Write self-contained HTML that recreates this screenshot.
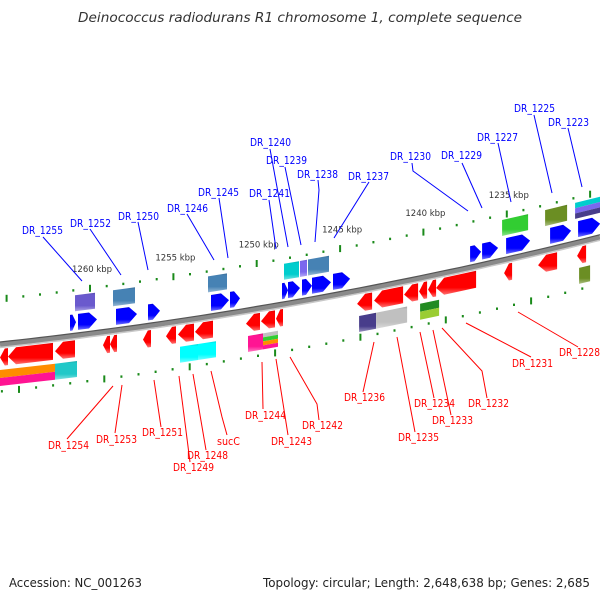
<!DOCTYPE html>
<html><head><meta charset="utf-8"><style>
body{margin:0;background:#fff}
svg{display:block;font-family:"DejaVu Sans","Liberation Sans",sans-serif}
</style></head><body>
<svg id="map" width="600" height="600" viewBox="0 0 600 600" xmlns="http://www.w3.org/2000/svg">
<rect width="600" height="600" fill="#fff"/>
<text x="300" y="22" text-anchor="middle" font-size="13" font-style="italic" fill="#333" textLength="444" lengthAdjust="spacingAndGlyphs">Deinococcus radiodurans R1 chromosome 1, complete sequence</text>
<defs id="defs"></defs>
<g id="axes"></g><g id="genes"></g><g id="labels"></g>
<text x="9" y="587" font-size="12" fill="#222" textLength="133" lengthAdjust="spacingAndGlyphs">Accession: NC_001263</text>
<text x="263" y="587" font-size="12" fill="#222" textLength="327" lengthAdjust="spacingAndGlyphs">Topology: circular; Length: 2,648,638 bp; Genes: 2,685</text>
</svg>
<script>
// ---- data (kbp) ----
const tickKbp = [1260,1255,1250,1245,1240,1235];
const geneStart = [1261.2,1260.72,1258.44,1256.52,1252.74,1251.6,1248.48,1248.12,1247.28,1246.68,1245.42,1237.2,1236.48,1235.04,1232.4,1230.72,
 1260.9,1258.62,1252.92,1248.36,1247.4,1246.92,1235.28,1232.7,1230.9,
 1265.4,1264.92,1262.1,1259.22,1258.8,1256.82,1255.44,1254.72,1253.7,1250.64,1249.74,1248.84,1243.98,1242.96,1241.16,1240.26,1239.72,1239.24,1235.16,1233.12,1230.78,
 1265.4,1262.1,1254.6,1253.52,1250.52,1249.62,1243.86,1242.84,1240.2,1230.66];
const geneEnd = [1260.84,1259.58,1257.18,1255.8,1251.66,1251.0,1248.12,1247.4,1246.68,1245.54,1244.4,1236.54,1235.52,1233.6,1231.14,1229.4,
 1259.7,1257.3,1251.78,1247.46,1246.98,1245.66,1233.72,1231.38,1229.4,
 1264.92,1262.22,1260.9,1258.8,1258.38,1256.34,1254.84,1253.76,1252.62,1249.8,1248.9,1248.42,1243.08,1241.22,1240.32,1239.78,1239.24,1236.84,1234.68,1231.98,1230.24,
 1262.1,1260.78,1253.52,1252.44,1249.62,1248.72,1242.84,1240.98,1239.06,1230.0];
const geneStrand = [1,1,1,1,1,1,1,1,1,1,1,1,1,1,1,1, 1,1,1,1,1,1,1,1,1,
 -1,-1,-1,-1,-1,-1,-1,-1,-1,-1,-1,-1,-1,-1,-1,-1,-1,-1,-1,-1,-1, -1,-1,-1,-1,-1,-1,-1,-1,-1,-1];
const geneTier = [0,0,0,0,0,0,0,0,0,0,0,0,0,0,0,0, 1,1,1,1,1,1,1,1,1,
 0,0,0,0,0,0,0,0,0,0,0,0,0,0,0,0,0,0,0,0,0, 1,1,1,1,1,1,1,1,1,1];
const geneColor = ["#0000ff","#0000ff","#0000ff","#0000ff","#0000ff","#0000ff","#0000ff","#0000ff","#0000ff","#0000ff","#0000ff","#0000ff","#0000ff","#0000ff","#0000ff","#0000ff",
 "#6a5acd","#4682b4","#4682b4","#00cdcd","#7b68ee","#4682b4","#32cd32","#6b8e23","#00cdcd|#7b68ee|#483d8b",
 "#ff0000","#ff0000","#ff0000","#ff0000","#ff0000","#ff0000","#ff0000","#ff0000","#ff0000","#ff0000","#ff0000","#ff0000","#ff0000","#ff0000","#ff0000","#ff0000","#ff0000","#ff0000","#ff0000","#ff0000","#ff0000",
 "#ff8c00|#ff1493","#20c8c8","#00ffff","#00ffff","#ff1493","#c0c0c0|#32cd32|#ff8c00|#ff1493","#483d8b","#c0c0c0","#228b22|#9acd32","#6b8e23"];
const labelName = ["DR_1255","DR_1252","DR_1250","DR_1246","DR_1245","DR_1241","DR_1240","DR_1239","DR_1238","DR_1237","DR_1230","DR_1229","DR_1227","DR_1225","DR_1223",
 "DR_1254","DR_1253","DR_1251","DR_1248","DR_1249","sucC","DR_1244","DR_1243","DR_1242","DR_1236","DR_1235","DR_1234","DR_1233","DR_1232","DR_1231","DR_1228"];
const labelX = [22,70,118,167,198,249,250,266,297,348,390,441,477,514,548, 48,96,142,187,173,217,245,271,302,344,398,414,432,468,512,559];
const labelY = [234,227,220,212,196,197,146,164,178,180,160,159,141,112,126, 449,443,436,459,471,445,419,445,429,401,441,407,424,407,367,356];
const leaders = [
 "43,237 82,281","90,229 121,275","138,222 148,270","187,214 214,260","219,198 228,258","269,200 276,249","270,149 288,247","285,167 301,245","318,180 319,190 315,242","369,182 334,238","412,163 413,171 468,211","462,163 482,208","498,143 511,202","534,115 552,193","568,128 582,187",
 "67,439 113,386","115,433 122,385","161,427 154,380","206,450 193,374","190,462 179,376","227,435 222,417 211,371","263,409 262,362","288,435 276,359","319,420 317,404 290,357","363,392 374,342","415,432 397,337","434,398 420,332","451,415 433,330","487,398 482,371 442,328","531,357 466,323","578,347 518,312"];

const NS="http://www.w3.org/2000/svg";
function xU(k){return 90+(1260-k)*16.67;}
function xL(k){return 19+(1260-k)*17.07;}
function d(x){return -0.108*x-0.000118*x*x;}
function mk(tag,attrs,parent){const e=document.createElementNS(NS,tag);for(const a in attrs)e.setAttribute(a,attrs[a]);parent.appendChild(e);return e;}
const defs=document.getElementById('defs'),gA=document.getElementById('axes'),gG=document.getElementById('genes'),gL=document.getElementById('labels');
function shade(hex,f){const n=parseInt(hex.slice(1),16);let r=n>>16,g=(n>>8)&255,b=n&255;
 if(f<0){r*=1+f;g*=1+f;b*=1+f;}else{r+=(255-r)*f;g+=(255-g)*f;b+=(255-b)*f;}
 return "rgb("+Math.round(r)+","+Math.round(g)+","+Math.round(b)+")";}
const grads={};
function grad(c){if(grads[c])return grads[c];const id="g"+Object.keys(grads).length;
 const lg=mk('linearGradient',{id:id,x1:0,y1:0,x2:0,y2:1},defs);
 mk('stop',{offset:0,'stop-color':shade(c,-0.15)},lg);mk('stop',{offset:0.12,'stop-color':c},lg);
 mk('stop',{offset:0.7,'stop-color':c},lg);mk('stop',{offset:1,'stop-color':shade(c,0.45)},lg);
 grads[c]="url(#"+id+")";return grads[c];}
function pt(x,y){return x.toFixed(1)+","+(y+d(x)).toFixed(1);}

function curve(y){let s=[];for(let x=0;x<=600;x+=10)s.push(pt(x,y));return s.join(" ");}
let bb=mk('polyline',{points:curve(344.5),fill:'none',stroke:'#8a8a8a','stroke-width':5},gA);

mk('polyline',{points:curve(342),fill:'none',stroke:'#555','stroke-width':1.2},gA);
mk('polyline',{points:curve(347.5),fill:'none',stroke:'#c8c8c8','stroke-width':1.5},gA);

function ticks(fx,y,name){for(let k=1200;k<=1280;k++){const x=fx(k);if(x<1||x>599)continue;
 const tall=k%5===0;const h=tall?7:2.4;
 const r=mk('rect',{x:(x-1).toFixed(1),y:(y-h/2+d(x)).toFixed(1),width:2,height:h,fill:'#1a8a1a'},gA);
 }}
ticks(xU,299,'upper-scale');ticks(xL,391.5,'lower-scale');
tickKbp.forEach(k=>{const x=xU(k);const t=mk('text',{x:(x-18).toFixed(1),y:(297.8+d(x)-15).toFixed(1),'font-size':8.5,fill:'#333'},gA);
 t.textContent=k+" kbp";});

const rows={"1_0":[323,339],"1_1":[304,320],"-1_0":[349,366],"-1_1":[370,386]};
for(let i=0;i<geneStart.length;i++){
 const x1=Math.min(xU(geneStart[i]),xU(geneEnd[i])),x2=Math.max(xU(geneStart[i]),xU(geneEnd[i]));
 const [y1,y2]=rows[geneStrand[i]+"_"+geneTier[i]];
 const cols=geneColor[i].split("|");
 const g=mk('g',{},gG);
 
 
 if(geneTier[i]===0){
  const ym=(y1+y2)/2,hl=Math.min(8,(x2-x1)*0.6);let p;
  if(geneStrand[i]>0) p=[pt(x1,y1),pt(x2-hl,y1),pt(x2,ym),pt(x2-hl,y2),pt(x1,y2)];
  else p=[pt(x1,ym),pt(x1+hl,y1),pt(x2,y1),pt(x2,y2),pt(x1+hl,y2)];
  mk('polygon',{points:p.join(" "),fill:grad(cols[0])},g);
 } else {
  const hh=(y2-y1)/cols.length;
  cols.forEach((c,j)=>{const a=y1+j*hh,b=a+hh;
   mk('polygon',{points:[pt(x1,a),pt(x2,a),pt(x2,b),pt(x1,b)].join(" "),fill:cols.length>1?c:grad(c)},g);});
 }
}

for(let i=0;i<labelName.length;i++){
 const col=i<15?'#0000ff':'#ff0000';
 const l=mk('polyline',{points:leaders[i],fill:'none',stroke:col,'stroke-width':1},gL);
 
 
 const t=mk('text',{x:labelX[i],y:labelY[i],'font-size':11,fill:col,textLength:(labelName[i].length===4?23:41),lengthAdjust:'spacingAndGlyphs'},gL);
 t.textContent=labelName[i];
 
 
}
</script>
</body></html>
